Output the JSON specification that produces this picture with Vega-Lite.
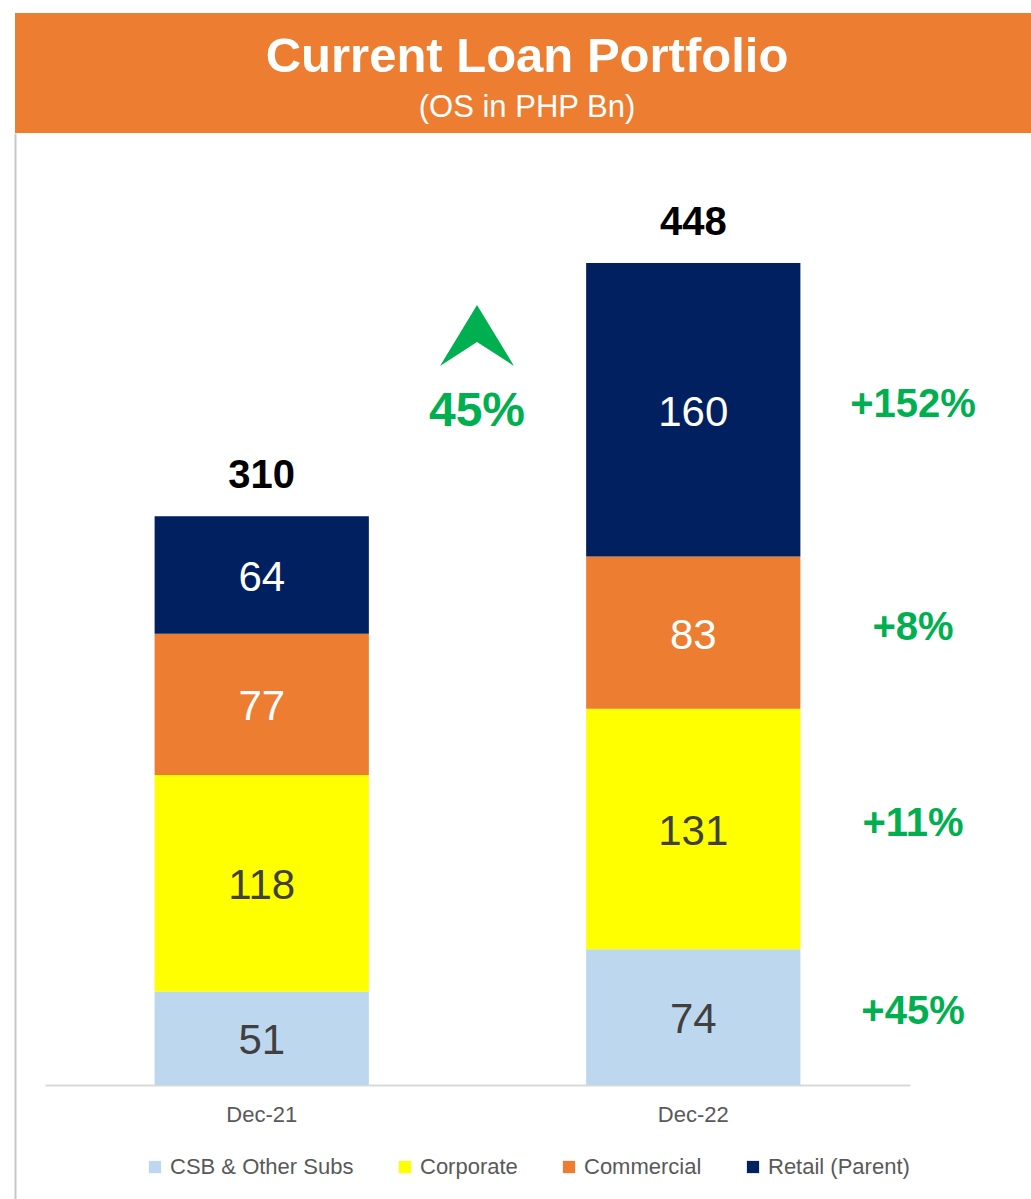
{
  "$schema": "https://vega.github.io/schema/vega-lite/v6.json",
  "background": "white",
  "padding": {"left": 15, "top": 13, "right": 0, "bottom": 0},
  "spacing": 0,
  "config": {
    "font": "Liberation Sans",
    "view": {"stroke": null},
    "axisY": {"domain": true, "domainColor": "#c8c8c8", "domainWidth": 2, "labels": false, "ticks": false, "grid": false},
    "legend": {
      "orient": "none", "legendX": 129, "legendY": 1143, "direction": "horizontal",
      "symbolType": "square", "symbolSize": 150, "symbolStrokeWidth": 0,
      "labelFontSize": 22, "labelColor": "#595959", "labelOffset": 4, "columnPadding": 40, "labelLimit": 0
    }
  },
  "datasets": {
    "header": [
      {"line": "title", "text": "Current Loan Portfolio"},
      {"line": "subtitle", "text": "(OS in PHP Bn)"}
    ],
    "loans": [
      {"period": "Dec-21", "segment": "CSB & Other Subs", "rank": 1, "value": 51, "growth": ""},
      {"period": "Dec-21", "segment": "Corporate", "rank": 2, "value": 118, "growth": ""},
      {"period": "Dec-21", "segment": "Commercial", "rank": 3, "value": 77, "growth": ""},
      {"period": "Dec-21", "segment": "Retail (Parent)", "rank": 4, "value": 64, "growth": ""},
      {"period": "Dec-22", "segment": "CSB & Other Subs", "rank": 1, "value": 74, "growth": "+45%"},
      {"period": "Dec-22", "segment": "Corporate", "rank": 2, "value": 131, "growth": "+11%"},
      {"period": "Dec-22", "segment": "Commercial", "rank": 3, "value": 83, "growth": "+8%"},
      {"period": "Dec-22", "segment": "Retail (Parent)", "rank": 4, "value": 160, "growth": "+152%"}
    ],
    "change": [
      {"label": "45%"}
    ]
  },
  "vconcat": [
    {
      "width": 1016,
      "height": 120,
      "view": {"fill": "#ED7D31", "stroke": null},
      "data": {"name": "header"},
      "layer": [
        {
          "transform": [{"filter": "datum.line === 'title'"}],
          "mark": {"type": "text", "fontSize": 49, "fontWeight": "bold", "color": "white", "baseline": "alphabetic", "align": "center", "dx": 4, "dy": -1},
          "encoding": {"text": {"field": "text"}}
        },
        {
          "transform": [{"filter": "datum.line === 'subtitle'"}],
          "mark": {"type": "text", "fontSize": 31, "color": "white", "baseline": "alphabetic", "align": "center", "dx": 4, "dy": 44},
          "encoding": {"text": {"field": "text"}}
        }
      ]
    },
    {
      "width": 1016,
      "height": 1066,
      "view": {"fill": "white", "stroke": null},
      "resolve": {"scale": {"x": "independent"}, "axis": {"x": "independent"}},
      "layer": [
        {
          "data": {"name": "loans"},
          "layer": [
            {
              "mark": {"type": "bar"},
              "encoding": {
                "x": {
                  "field": "period", "type": "nominal",
                  "scale": {"domain": ["Dec-21", "Dec-22"], "range": [30, 895], "paddingInner": 0.5035, "paddingOuter": 0.254},
                  "axis": {"orient": "bottom", "offset": -114, "title": null, "labelAngle": 0, "ticks": false, "domainColor": "#d9d9d9", "domainWidth": 2, "labelFontSize": 22, "labelColor": "#595959", "labelPadding": 19}
                },
                "y": {
                  "field": "value", "type": "quantitative", "stack": "zero",
                  "scale": {"domain": [-62.13, 518.85], "nice": false, "zero": false},
                  "axis": {"title": null}
                },
                "color": {
                  "field": "segment", "type": "nominal",
                  "scale": {"domain": ["CSB & Other Subs", "Corporate", "Commercial", "Retail (Parent)"], "range": ["#BDD7EE", "#FFFF00", "#ED7D31", "#002060"]},
                  "legend": {"title": null}
                },
                "order": {"field": "rank", "type": "quantitative", "sort": "ascending"}
              }
            },
            {
              "mark": {"type": "text", "fontSize": 42, "baseline": "middle", "align": "center", "dy": 3},
              "encoding": {
                "x": {"field": "period", "type": "nominal"},
                "y": {"field": "value", "type": "quantitative", "stack": "zero", "bandPosition": 0.5, "axis": {"title": null}},
                "detail": {"field": "segment"},
                "order": {"field": "rank", "type": "quantitative", "sort": "ascending"},
                "text": {"field": "value", "type": "quantitative"},
                "color": {"condition": {"test": "datum.segment === 'Retail (Parent)' || datum.segment === 'Commercial'", "value": "white"}, "value": "#404040"}
              }
            },
            {
              "transform": [{"aggregate": [{"op": "sum", "field": "value", "as": "total"}], "groupby": ["period"]}],
              "mark": {"type": "text", "fontSize": 40, "fontWeight": "bold", "color": "black", "baseline": "alphabetic", "align": "center", "dy": -28},
              "encoding": {
                "x": {"field": "period", "type": "nominal"},
                "y": {"field": "total", "type": "quantitative", "axis": {"title": null}},
                "text": {"field": "total", "type": "quantitative"}
              }
            }
          ]
        },
        {
          "layer": [
            {
              "data": {"name": "change"},
              "mark": {"type": "point", "shape": "M0,-0.824L1,0.824L0,0.176L-1,0.824Z", "filled": true, "size": 5476, "color": "#00B050", "opacity": 1, "strokeWidth": 0},
              "encoding": {
                "x": {"datum": "change", "type": "nominal", "scale": {"type": "point", "domain": ["change", "growth"], "range": [462, 898], "padding": 0}, "axis": null},
                "y": {"datum": 408.5, "type": "quantitative", "axis": {"title": null}}
              }
            },
            {
              "data": {"name": "change"},
              "mark": {"type": "text", "fontSize": 48, "fontWeight": "bold", "color": "#00B050", "baseline": "middle", "align": "center"},
              "encoding": {
                "x": {"datum": "change", "type": "nominal"},
                "y": {"datum": 366.8, "type": "quantitative", "axis": {"title": null}},
                "text": {"field": "label"}
              }
            },
            {
              "data": {"name": "loans"},
              "transform": [{"filter": "datum.period === 'Dec-22'"}],
              "mark": {"type": "text", "fontSize": 40, "fontWeight": "bold", "color": "#00B050", "baseline": "middle", "align": "center", "dy": -5},
              "encoding": {
                "x": {"datum": "growth", "type": "nominal"},
                "y": {"field": "value", "type": "quantitative", "stack": "zero", "bandPosition": 0.5, "axis": {"title": null}},
                "detail": {"field": "segment"},
                "order": {"field": "rank", "type": "quantitative", "sort": "ascending"},
                "text": {"field": "growth"}
              }
            }
          ]
        }
      ]
    }
  ]
}
